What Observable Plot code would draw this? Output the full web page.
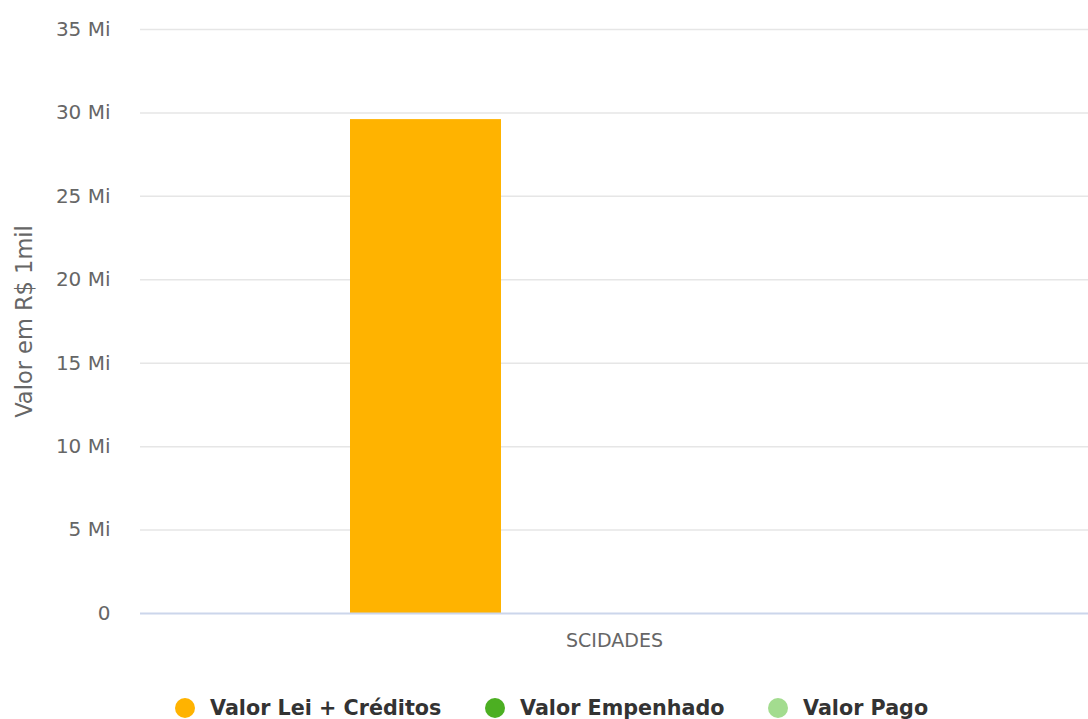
<!DOCTYPE html>
<html>
<head>
<meta charset="utf-8">
<script src="https://cdn.jsdelivr.net/npm/d3@7"></script>
<script src="https://cdn.jsdelivr.net/npm/@observablehq/plot@0.6"></script>
<style>
  html, body { margin: 0; padding: 0; background: #ffffff; }
  #chart svg { display: block; }
  #legend { position: relative; height: 59px; width: 1088px;
    font-family: "DejaVu Sans", sans-serif; font-weight: bold; font-size: 20.7px; color: #333333; }
  .item { position: absolute; top: 36px; display: flex; align-items: center; gap: 15px; line-height: 24px; }
  .dot { width: 20px; height: 20px; border-radius: 50%; display: inline-block; }
</style>
</head>
<body>
<div id="chart"></div>
<div id="legend"></div>
<script>
const categories = ["SCIDADES"];
const seriesNames = ["Valor Lei + Créditos", "Valor Empenhado", "Valor Pago"];
const seriesValues = [29.6, 0, 0]; // in millions
const seriesColors = ["#ffb300", "#4caf22", "#a3dc8f"];
const yTicks = [0, 5, 10, 15, 20, 25, 30, 35];

const data = seriesNames.map((s, i) => ({cat: categories[0], series: s, value: seriesValues[i]}));

const chart = Plot.plot({
  width: 1088,
  height: 660,
  marginLeft: 140,
  marginRight: 0,
  marginTop: 29,
  marginBottom: 47,
  style: {fontFamily: "DejaVu Sans, sans-serif", fontSize: "20px", color: "#666666", background: "#ffffff"},
  fx: {domain: categories, padding: 0, label: null},
  x: {domain: seriesNames, paddingInner: 0.2032, paddingOuter: 1.103, axis: null},
  y: {domain: [0, 35], ticks: yTicks},
  color: {domain: seriesNames, range: seriesColors},
  marks: [
    Plot.gridY(yTicks.filter(d => d > 0), {stroke: "#e6e6e6", strokeOpacity: 1, strokeWidth: 1.5}),
    Plot.axisY(yTicks, {tickSize: 0, tickPadding: 30, tickFormat: d => d === 0 ? "0" : `${d} Mi`,
      label: null, fill: "#666666"}),
    Plot.text(["Valor em R$ 1mil"], {frameAnchor: "left", dx: -116, rotate: -90, fontSize: 22.5, fill: "#666666", textAnchor: "middle"}),
    Plot.axisFx({anchor: "bottom", tickSize: 0, tickPadding: 20, label: null, fontSize: "19px", fill: "#666666"}),
    Plot.barY(data, {fx: "cat", x: "series", y: "value", fill: "series"}),
    Plot.ruleY([0], {stroke: "#ccd6eb", strokeWidth: 2})
  ]
});
document.getElementById("chart").appendChild(chart);

const legendLefts = [175, 485, 768];
const legend = document.getElementById("legend");
seriesNames.forEach((s, i) => {
  const item = document.createElement("div");
  item.className = "item";
  item.style.left = legendLefts[i] + "px";
  const dot = document.createElement("span");
  dot.className = "dot";
  dot.style.background = seriesColors[i];
  const label = document.createElement("span");
  label.textContent = s;
  item.appendChild(dot);
  item.appendChild(label);
  legend.appendChild(item);
});
</script>
</body>
</html>
